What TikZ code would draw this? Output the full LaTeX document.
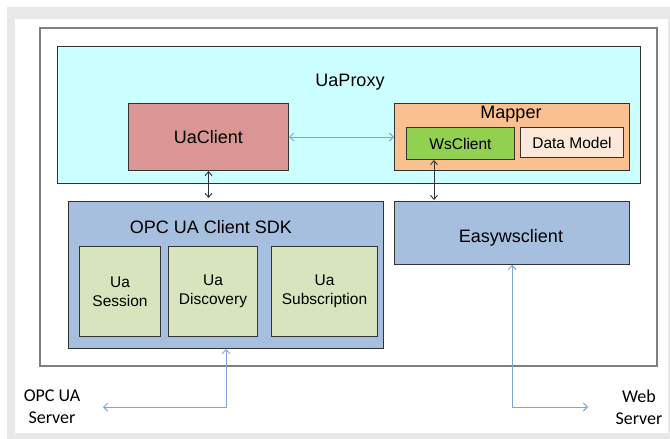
\documentclass[tikz,border=0pt]{standalone}
\usepackage{fontspec}
\setmainfont{Liberation Sans}
\newfontfamily\calfont{Carlito}
\usetikzlibrary{arrows.meta,calc}

\definecolor{bgband}{HTML}{E8E8E8}
\definecolor{framegray}{HTML}{7F7F7F}
\definecolor{proxycyan}{HTML}{CCFFFF}
\definecolor{clientrose}{HTML}{D99694}
\definecolor{mapperorange}{HTML}{FAC090}
\definecolor{wsgreen}{HTML}{92D050}
\definecolor{modelpeach}{HTML}{FDE9D9}
\definecolor{sdkblue}{HTML}{A7BFDE}
\definecolor{modgreen}{HTML}{D7E4BD}
\definecolor{linkblue}{HTML}{7FA4D8}
\definecolor{edgedark}{HTML}{333333}

\tikzset{
  box/.style={draw=edgedark, line width=1pt, inner sep=0pt, anchor=north west},
  bigtxt/.style={font=\fontsize{18}{21}\selectfont, inner sep=0pt},
  midtxt/.style={font=\fontsize{15.5}{19}\selectfont, inner sep=0pt, align=center},
  caltxt/.style={font=\calfont\fontsize{18}{22}\selectfont, inner sep=0pt, align=center},
  bluelink/.style={draw=linkblue, line width=0.9pt, {Straight Barb[length=4pt,width=8pt]}-{Straight Barb[length=4pt,width=8pt]}},
  darklink/.style={draw=edgedark, line width=0.9pt, {Straight Barb[length=4pt,width=7pt]}-{Straight Barb[length=4pt,width=7pt]}}
}

\begin{document}
\begin{tikzpicture}[x=1pt,y=-1pt]
\useasboundingbox (0,0) rectangle (670,439);
% page background and band
\fill[white] (0,0) rectangle (670,439);
\fill[bgband] (7,7) rectangle (670,439);
\fill[white] (15,19) rectangle (668,433);

% outer system frame
\draw[framegray, line width=1.4pt] (40,28) rectangle (657,366);

% UaProxy container
\node[box, fill=proxycyan, minimum width=583, minimum height=137] (proxy) at (57,46) {};
\node[bigtxt] (proxytitle) at (350,82) {UaProxy};

% UaClient
\node[box, fill=clientrose, minimum width=160, minimum height=67] (uaclient) at (128,103) {};
\node[bigtxt] (uaclienttxt) at (uaclient.center) {UaClient};

% Mapper with its parts
\node[box, fill=mapperorange, minimum width=235, minimum height=67] (mapper) at (394,103) {};
\node[bigtxt] (mappertxt) at (511,114) {Mapper};
\node[box, fill=wsgreen, minimum width=108, minimum height=32] (wsclient) at (406,127) {};
\node[midtxt] (wsclienttxt) at (wsclient.center) {WsClient};
\node[box, fill=modelpeach, minimum width=103, minimum height=30] (datamodel) at (520,127) {};
\node[midtxt] (datamodeltxt) at (datamodel.center) {Data Model};

% OPC UA Client SDK with its modules
\node[box, fill=sdkblue, minimum width=315, minimum height=147] (sdk) at (68,201) {};
\node[bigtxt] (sdktxt) at (211,227) {OPC UA Client SDK};
\node[box, fill=modgreen, minimum width=81, minimum height=90] (session) at (79,246) {};
\node[midtxt] (sessiontxt) at (session.center) {Ua\\Session};
\node[box, fill=modgreen, minimum width=89, minimum height=90] (discovery) at (168,246) {};
\node[midtxt] (discoverytxt) at (discovery.center) {Ua\\Discovery};
\node[box, fill=modgreen, minimum width=106, minimum height=90] (subscription) at (271,246) {};
\node[midtxt] (subscriptiontxt) at (subscription.center) {Ua\\Subscription};

% Easywsclient
\node[box, fill=sdkblue, minimum width=235, minimum height=63] (easyws) at (394,201) {};
\node[bigtxt] (easywstxt) at (511,238) {Easywsclient};

% external servers
\node[caltxt] (opcserver) at (52,407) {OPC UA\\Server};
\node[caltxt] (webserver) at (639,407) {Web\\Server};

% connection points
\coordinate (wsport) at ($(wsclient.south west)+(28,0)$);
\coordinate (sdkport) at ($(sdk.south west)+(158,0)$);
\coordinate (opcend) at (103,407);
\coordinate (webend) at (588,407);

% connectors
\draw[bluelink] (uaclient.east) -- (mapper.west);
\draw[darklink, shorten >=3pt] (uaclient.south) -- (uaclient.south |- sdk.north);
\draw[darklink, shorten >=1pt] (wsport) -- (wsport |- easyws.north);
\draw[bluelink] (opcend) -| (sdkport);
\draw[bluelink] (easyws.south) |- (webend);
\end{tikzpicture}
\end{document}
